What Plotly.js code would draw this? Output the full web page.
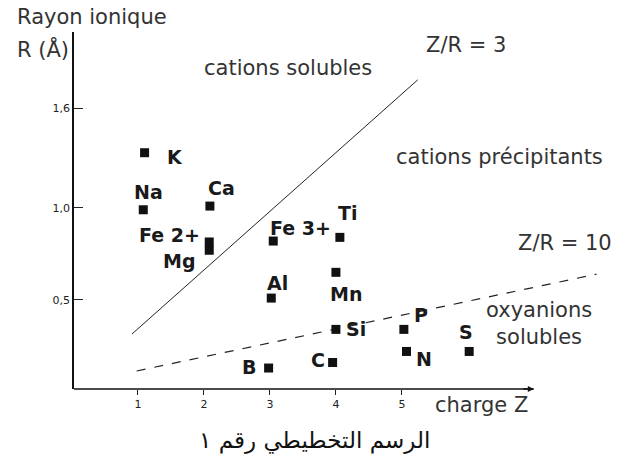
<!DOCTYPE html>
<html>
<head>
<meta charset="utf-8">
<script src="https://cdn.plot.ly/plotly-3.0.1.min.js"></script>
<style>
  body { margin: 0; background: #fff; }
  #chart { width: 621px; height: 466px; }
</style>
</head>
<body>
<div id="chart"></div>
<script>
// ions: charge Z vs ionic radius R
const ions = ['K', 'Na', 'Ca', 'Fe 2+', 'Mg', 'Fe 3+', 'Ti', 'Mn', 'Al', 'Si', 'C', 'B', 'P', 'N', 'S'];
const charge = [1.1, 1.08, 2.09, 2.08, 2.08, 3.05, 4.06, 4.0, 3.02, 4.0, 3.95, 2.98, 5.03, 5.07, 6.02];
const radius = [1.30, 0.99, 1.01, 0.815, 0.77, 0.82, 0.84, 0.65, 0.51, 0.34, 0.16, 0.13, 0.34, 0.22, 0.22];

// boundary lines
const zr3X = [0.91, 5.24];
const zr3Y = [0.315, 1.696];
const zr10X = [0.98, 7.95];
const zr10Y = [0.114, 0.64];

// ticks
const xTicks = [1, 2, 3, 4, 5];
const yTickVals = [0.5, 1.0, 1.54];
const yTickText = ['0,5', '1,0', '1,6'];

// label offsets (px) for each ion
const labelShift = [
  [30, -4], [5, 18], [12, 18], [-40, 7], [-30, -11], [27, 13], [8, 24],
  [10, -22], [6, 15], [20, 0], [-15, 3], [-20, 1], [17, 14], [17, -8], [-3, 19]
];

const data = [
  {x: zr3X, y: zr3Y, mode: 'lines', line: {color: '#222', width: 1}, hoverinfo: 'skip'},
  {x: zr10X, y: zr10Y, mode: 'lines', line: {color: '#222', width: 1.2, dash: 'dash'}, hoverinfo: 'skip'},
  {x: charge, y: radius, mode: 'markers', marker: {symbol: 'square', size: 9, color: '#111'}}
];

const annotations = ions.map((name, i) => ({
  x: charge[i], y: radius[i], text: name, showarrow: false,
  xshift: labelShift[i][0], yshift: labelShift[i][1],
  font: {family: 'DejaVu Sans', size: 19, color: '#1a1a1a', weight: 'bold'}
}));

const plain = {family: 'DejaVu Sans', size: 21, color: '#333'};
annotations.push(
  {x: 5.97, y: 1.886, text: 'Z/R = 3', showarrow: false, font: plain},
  {x: 3.28, y: 1.76, text: 'cations solubles', showarrow: false, font: plain},
  {x: 6.48, y: 1.277, text: 'cations précipitants', showarrow: false, font: plain},
  {x: 7.47, y: 0.81, text: 'Z/R = 10', showarrow: false, font: plain},
  {x: 6.24, y: 0.37, text: 'oxyanions<br>solubles', showarrow: false, xanchor: 'left', align: 'center', font: plain},
  {x: 6.2, yref: 'paper', y: -0.045, yanchor: 'middle', text: 'charge Z', showarrow: false, font: plain},
  {x: 7.0, yref: 'paper', y: 0, ax: -12, ay: 0, text: '', showarrow: true, arrowhead: 2, arrowsize: 0.8,
   arrowwidth: 1.5, arrowcolor: '#111'},
  {xref: 'paper', yref: 'paper', x: -0.1095, y: 1.042, xanchor: 'left', yanchor: 'middle',
   text: 'Rayon ionique', showarrow: false, font: plain},
  {xref: 'paper', yref: 'paper', x: -0.1095, y: 0.952, xanchor: 'left', yanchor: 'middle',
   text: 'R (Å)', showarrow: false, font: plain},
  {xref: 'paper', yref: 'paper', x: 0.447, y: -0.143, xanchor: 'center', yanchor: 'middle',
   text: 'الرسم التخطيطي رقم ١', showarrow: false, font: {family: 'DejaVu Sans', size: 23, color: '#111'}}
);

const layout = {
  width: 621, height: 466,
  margin: {l: 74, r: 8, t: 32, b: 77},
  showlegend: false,
  paper_bgcolor: '#fff', plot_bgcolor: '#fff',
  xaxis: {
    range: [0.03, 8.2], tickvals: xTicks, showgrid: false, zeroline: false, showline: false,
    ticks: 'outside', ticklen: 5, tickcolor: '#222',
    tickfont: {family: 'DejaVu Sans', size: 11, color: '#222'}
  },
  yaxis: {
    range: [0.016, 1.956], tickvals: yTickVals, ticktext: yTickText, showgrid: false, zeroline: false,
    showline: true, linecolor: '#111', linewidth: 1.5,
    ticks: 'inside', ticklen: 9, tickcolor: '#222',
    tickfont: {family: 'DejaVu Sans', size: 11, color: '#222'}
  },
  shapes: [
    {type: 'line', xref: 'x', yref: 'paper', x0: 0.03, x1: 7.0, y0: 0, y1: 0, line: {color: '#111', width: 1.5}}
  ],
  annotations: annotations
};

Plotly.newPlot('chart', data, layout, {displayModeBar: false});
</script>
</body>
</html>
